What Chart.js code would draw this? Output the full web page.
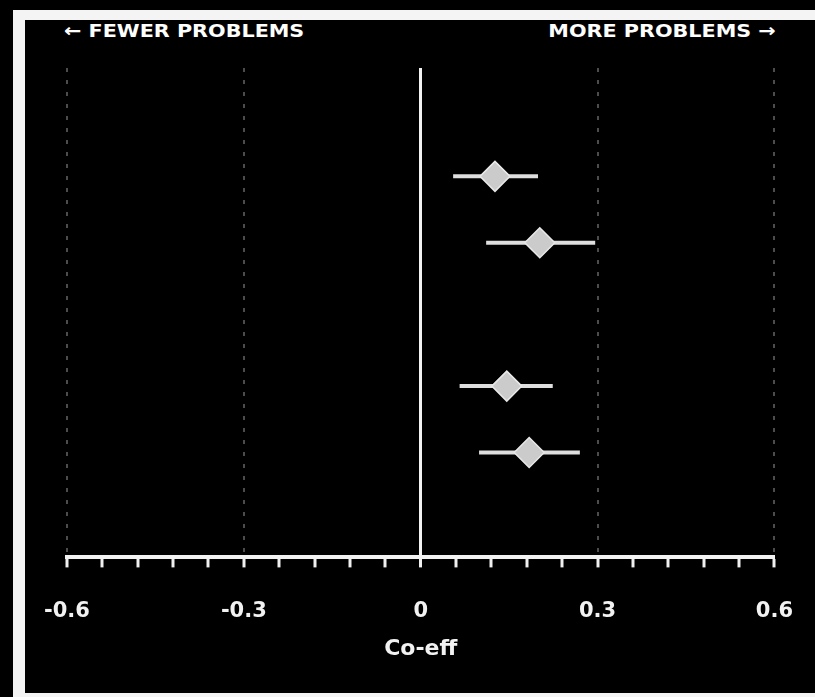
<!DOCTYPE html>
<html>
<head>
<meta charset="utf-8">
<script src="https://cdn.jsdelivr.net/npm/chart.js@4/dist/chart.umd.min.js"></script>
<style>
  html, body { margin: 0; padding: 0; background: #000; overflow: hidden; }
  #frame { position: absolute; left: 13px; top: 10px; width: 802px; height: 687px; background: #f4f4f4; }
  #inner { position: absolute; left: 25px; top: 20px; width: 790px; height: 673px; background: #000; }
  .hdr { position: absolute; top: 20px; color: #fff; font: bold 18px "DejaVu Sans", sans-serif; white-space: nowrap; }
  #left-hdr { left: 64px; transform: scaleX(1.15); transform-origin: left center; }
  #right-hdr { right: 39px; transform: scaleX(1.15); transform-origin: right center; }
  #wrap { position: absolute; left: 0; top: 0; width: 815px; height: 697px; overflow: hidden; }
</style>
</head>
<body>
<div id="frame"></div>
<div id="inner"></div>
<div class="hdr" id="left-hdr">← FEWER PROBLEMS</div>
<div class="hdr" id="right-hdr">MORE PROBLEMS →</div>
<div id="wrap"><canvas id="forest" width="825" height="697"></canvas></div>
<script>
// point estimates and confidence limits, one per row (top to bottom)
const coeff = [0.126, 0.202, 0.146, 0.184];
const lower = [0.055, 0.111, 0.066, 0.099];
const upper = [0.199, 0.296, 0.224, 0.270];
const rowPos = [1.55, 2.5, 4.55, 5.5];

const majorTicks = [-0.6, -0.3, 0, 0.3, 0.6];

function majorOf(v) {
  return majorTicks.find(m => Math.abs(m - v) < 1e-9);
}

const errorBars = {
  id: 'errorBars',
  beforeDatasetsDraw(chart) {
    const ctx = chart.ctx;
    const xs = chart.scales.x;
    const ys = chart.scales.y;
    ctx.save();
    ctx.strokeStyle = '#dedede';
    ctx.lineWidth = 4;
    for (let i = 0; i < coeff.length; i++) {
      const y = ys.getPixelForValue(rowPos[i]);
      ctx.beginPath();
      ctx.moveTo(xs.getPixelForValue(lower[i]), y);
      ctx.lineTo(xs.getPixelForValue(upper[i]), y);
      ctx.stroke();
    }
    ctx.restore();
  }
};

const points = coeff.map((c, i) => ({x: c, y: rowPos[i]}));

new Chart(document.getElementById('forest'), {
  type: 'scatter',
  data: {
    datasets: [{
      data: points,
      pointStyle: 'rectRot',
      pointRadius: 15,
      pointBackgroundColor: '#cbcbcb',
      pointBorderColor: '#e8e8e8',
      pointBorderWidth: 1.5
    }]
  },
  options: {
    responsive: false,
    animation: false,
    layout: {
      padding: {left: 67, right: 41, top: 68, bottom: 35}
    },
    plugins: {
      legend: {display: false},
      tooltip: {enabled: false}
    },
    scales: {
      x: {
        type: 'linear',
        min: -0.6,
        max: 0.6,
        grid: {
          color: (c) => {
            const m = majorOf(c.tick.value);
            if (m === undefined) return 'rgba(0,0,0,0)';
            return m === 0 ? '#f2f2f2' : '#4c4c4c';
          },
          lineWidth: (c) => majorOf(c.tick.value) === 0 ? 3 : 2,
          tickColor: '#f0f0f0',
          tickWidth: 3,
          tickLength: 10
        },
        border: {
          display: true,
          color: '#f2f2f2',
          width: 4,
          dash: (c) => (c.tick && majorOf(c.tick.value) === 0) ? [] : [4, 8]
        },
        ticks: {
          stepSize: 0.06,
          autoSkip: false,
          maxRotation: 0,
          padding: 32,
          color: '#f2f2f2',
          font: {family: 'DejaVu Sans', size: 21, weight: 'bold'},
          callback: (v) => {
            const m = majorOf(v);
            if (m === undefined) return '';
            return m === 0 ? '0' : String(m);
          }
        },
        title: {
          display: true,
          text: 'Co-eff',
          color: '#f2f2f2',
          font: {family: 'DejaVu Sans', size: 22, weight: 'bold'},
          padding: {top: -21, bottom: 0}
        }
      },
      y: {
        type: 'linear',
        display: false,
        reverse: true,
        min: 0,
        max: 7
      }
    }
  },
  plugins: [errorBars]
});
</script>
</body>
</html>
